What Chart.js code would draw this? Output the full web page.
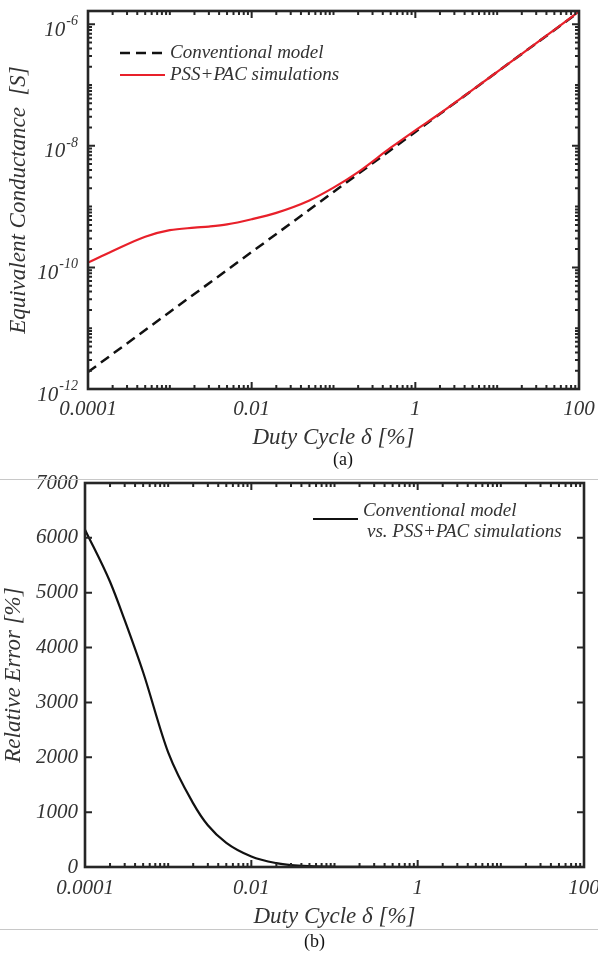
<!DOCTYPE html>
<html><head><meta charset="utf-8">
<script src="https://cdn.jsdelivr.net/npm/chart.js@4.4.0/dist/chart.umd.min.js"></script>
<style>
html,body{margin:0;padding:0;background:#fff;}
body{width:598px;height:955px;position:relative;overflow:hidden;font-family:"Liberation Serif","Times New Roman",serif;}
#ca{position:absolute;left:0;top:0;}
#cb{position:absolute;left:0;top:470px;}
.sep{position:absolute;left:0;width:598px;height:1px;background:#c8c8c8;}
.cap{position:absolute;font-size:18px;color:#111;line-height:1;}
</style></head><body>
<canvas id="ca" width="598" height="470"></canvas>
<canvas id="cb" width="598" height="485"></canvas>
<div class="sep" style="top:479px"></div>
<div class="sep" style="top:929px"></div>
<div class="cap" style="left:333px;top:450px">(a)</div>
<div class="cap" style="left:304px;top:932px">(b)</div>
<script>
// ---------- data ----------
const xTickValues = [0.0001, 0.01, 1, 100];
const xTickLabels = ['0.0001', '0.01', '1', '100'];

const yTickValuesA = [1e-12, 1e-10, 1e-8, 1e-6];
const yTickLabelsA = ['10^-12', '10^-10', '10^-8', '10^-6'];

const yTickValuesB = [0, 1000, 2000, 3000, 4000, 5000, 6000, 7000];
const yTickLabelsB = ['0', '1000', '2000', '3000', '4000', '5000', '6000', '7000'];

const legendLabelsA = ['Conventional model', 'PSS+PAC simulations'];
const legendLabelsB = ['Conventional model', 'vs. PSS+PAC simulations'];

// (a) conventional model
const dutyConv = [0.0001, 0.001, 0.01, 0.1, 1, 10, 100];
const conventionalG = [1.9e-12, 1.85e-11, 1.79e-10, 1.74e-9, 1.69e-8, 1.64e-7, 1.59e-6];

// (a) PSS+PAC simulations
const dutySim = [0.0001, 0.0002, 0.0005, 0.001, 0.002, 0.003, 0.005, 0.01, 0.02, 0.05, 0.1, 0.2, 0.5, 1, 2, 5, 10, 20, 50, 100];
const simulatedG = [1.2e-10, 1.86e-10, 3.2e-10, 4.1e-10, 4.5e-10, 4.7e-10, 5.1e-10, 6.2e-10, 7.9e-10, 1.25e-9, 2.05e-9, 3.7e-9, 9.3e-9, 1.8e-8, 3.4e-8, 8.3e-8, 1.64e-7, 3.25e-7, 8.1e-7, 1.62e-6];

// (b) relative error
const dutyErr = [0.0001, 0.0002, 0.0003, 0.0005, 0.001, 0.002, 0.003, 0.005, 0.01, 0.02, 0.03, 0.05, 0.1, 0.3, 1, 10, 100];
const relError = [6150, 5200, 4500, 3550, 2090, 1160, 760, 440, 192, 70, 34, 15, 5, 1, 0.3, 0, 0];

// ---------- helpers ----------
const FAMILY = '"Liberation Serif","Times New Roman",serif';
const TEXT = '#333';
const tickFont = {family: FAMILY, size: 21, style: 'italic'};
const titleFont = {family: FAMILY, size: 23, style: 'italic'};

function logTickList(minExp, maxExp, maxVal) {
  const out = [];
  for (let e = minExp; e <= maxExp; e++) {
    for (let k = 1; k <= 9; k++) {
      const v = k * Math.pow(10, e);
      if (v <= maxVal * 1.0001) out.push(v);
    }
  }
  return out;
}
function isMajor(v, list) {
  return list.some(m => Math.abs(v - m) <= Math.abs(m) * 1e-6 + (m === 0 ? 1e-9 : 0));
}
const pts = (xs, ys) => xs.map((x, i) => ({x, y: ys[i]}));

const boxTicks = {
  id: 'boxTicks',
  afterDraw(chart, args, o) {
    const {ctx, chartArea: a, scales: {x, y}} = chart;
    ctx.save();
    ctx.strokeStyle = '#262626';
    ctx.lineWidth = 2;
    ctx.beginPath();
    o.xTicks.forEach(v => {
      const px = x.getPixelForValue(v);
      const L = isMajor(v, o.xMajor) ? 7 : 4;
      ctx.moveTo(px, a.bottom); ctx.lineTo(px, a.bottom - L);
      ctx.moveTo(px, a.top); ctx.lineTo(px, a.top + L);
    });
    o.yTicks.forEach(v => {
      const py = y.getPixelForValue(v);
      const L = isMajor(v, o.yMajor) ? 7 : 4;
      ctx.moveTo(a.left, py); ctx.lineTo(a.left + L, py);
      ctx.moveTo(a.right, py); ctx.lineTo(a.right - L, py);
    });
    ctx.stroke();
    ctx.lineWidth = 2.6;
    ctx.strokeRect(a.left, a.top, a.right - a.left, a.bottom - a.top);
    ctx.restore();
  }
};

// power-of-ten labels with a real superscript exponent, placed through the y scale
const supLabels = {
  id: 'supLabels',
  afterDraw(chart, args, o) {
    if (!o.values) return;
    const {ctx, scales: {y}} = chart;
    ctx.save();
    ctx.fillStyle = TEXT;
    ctx.textBaseline = 'middle';
    ctx.textAlign = 'right';
    o.values.forEach((v, i) => {
      const [base, exp] = o.labels[i].split('^');
      const py = y.getPixelForValue(v);
      const right = y.right - o.pad;
      ctx.font = 'italic 14px ' + FAMILY;
      const ew = ctx.measureText(exp).width;
      ctx.fillText(exp, right, py - 3);
      ctx.font = 'italic 21px ' + FAMILY;
      ctx.fillText(base, right - ew - 1, py + 6);
    });
    ctx.restore();
  }
};

const innerLegend = {
  id: 'innerLegend',
  afterDraw(chart, args, o) {
    const ctx = chart.ctx;
    ctx.save();
    ctx.font = 'italic 19px ' + FAMILY;
    ctx.fillStyle = TEXT;
    ctx.textBaseline = 'middle';
    ctx.textAlign = 'left';
    o.items.forEach(it => {
      const ds = chart.data.datasets[it.dataset];
      ctx.strokeStyle = ds.borderColor;
      ctx.lineWidth = ds.borderWidth;
      ctx.setLineDash(ds.borderDash || []);
      ctx.beginPath();
      ctx.moveTo(it.x1, it.y); ctx.lineTo(it.x2, it.y);
      ctx.stroke();
      ctx.setLineDash([]);
      it.lines.forEach((t, i) => ctx.fillText(t, it.tx[i], it.ty[i]));
    });
    ctx.restore();
  }
};

function xScale(height, labelPad, titlePadBottom) {
  return {
    type: 'logarithmic', min: 1e-4, max: 100,
    afterBuildTicks: s => { s.ticks = xTickValues.map(v => ({value: v})); },
    afterFit: s => { s.height = height; s.paddingLeft = 0; s.paddingRight = 0; },
    ticks: {callback: v => xTickLabels[xTickValues.indexOf(v)], font: tickFont, color: TEXT,
            padding: labelPad, autoSkip: false, maxRotation: 0, minRotation: 0},
    grid: {display: false, drawTicks: false},
    border: {display: false},
    title: {display: true, text: 'Duty Cycle \u03B4 [%]', font: titleFont, color: TEXT,
            padding: {top: 0, bottom: titlePadBottom}}
  };
}

// ---------- chart (a) ----------
new Chart(document.getElementById('ca'), {
  type: 'line',
  data: {
    datasets: [
      {label: legendLabelsA[1], data: pts(dutySim, simulatedG), borderColor: '#e8202a', borderWidth: 2.2,
       pointRadius: 0, cubicInterpolationMode: 'monotone', order: 0},
      {label: legendLabelsA[0], data: pts(dutyConv, conventionalG), borderColor: '#111', borderWidth: 2.5,
       borderDash: [10, 6], pointRadius: 0, order: 1}
    ]
  },
  options: {
    responsive: false, animation: false, devicePixelRatio: 1,
    layout: {padding: {top: 11, right: 19, left: 0, bottom: 0}},
    plugins: {
      legend: {display: false}, tooltip: {enabled: false},
      boxTicks: {xTicks: logTickList(-4, 2, 100), xMajor: xTickValues,
                 yTicks: logTickList(-12, -6, 1.65e-6), yMajor: yTickValuesA},
      supLabels: {values: yTickValuesA, labels: yTickLabelsA, pad: 10},
      innerLegend: {items: [
        {dataset: 1, x1: 120, x2: 165, y: 53, lines: [legendLabelsA[0]], tx: [170], ty: [53]},
        {dataset: 0, x1: 120, x2: 165, y: 75, lines: [legendLabelsA[1]], tx: [170], ty: [75]}
      ]}
    },
    scales: {
      x: xScale(81, 8, 18),
      y: {
        type: 'logarithmic', min: 1e-12, max: 1.65e-6,
        afterBuildTicks: s => { s.ticks = yTickValuesA.map(v => ({value: v})); },
        afterFit: s => { s.width = 88; s.paddingTop = 0; s.paddingBottom = 0; },
        ticks: {display: false},
        grid: {display: false, drawTicks: false},
        border: {display: false},
        title: {display: true, text: 'Equivalent Conductance  [S]', font: titleFont, color: TEXT,
                padding: {top: 5, bottom: 0}}
      }
    }
  },
  plugins: [boxTicks, supLabels, innerLegend]
});

// ---------- chart (b) ----------
new Chart(document.getElementById('cb'), {
  type: 'line',
  data: {
    datasets: [
      {label: legendLabelsB.join(' '), data: pts(dutyErr, relError), borderColor: '#111', borderWidth: 2.2,
       pointRadius: 0, cubicInterpolationMode: 'monotone'}
    ]
  },
  options: {
    responsive: false, animation: false, devicePixelRatio: 1,
    layout: {padding: {top: 13, right: 14, left: 0, bottom: 0}},
    plugins: {
      legend: {display: false}, tooltip: {enabled: false},
      boxTicks: {xTicks: logTickList(-4, 2, 100), xMajor: xTickValues,
                 yTicks: yTickValuesB, yMajor: yTickValuesB},
      innerLegend: {items: [
        {dataset: 0, x1: 313, x2: 358, y: 49, lines: legendLabelsB, tx: [363, 367], ty: [41, 62]}
      ]}
    },
    scales: {
      x: xScale(88, 9, 24),
      y: {
        type: 'linear', min: 0, max: 7000,
        afterBuildTicks: s => { s.ticks = yTickValuesB.map(v => ({value: v})); },
        afterFit: s => { s.width = 85; s.paddingTop = 0; s.paddingBottom = 0; },
        ticks: {callback: v => yTickLabelsB[yTickValuesB.indexOf(v)], font: tickFont, color: TEXT,
                padding: 7, autoSkip: false},
        grid: {display: false, drawTicks: false},
        border: {display: false},
        title: {display: true, text: 'Relative Error [%]', font: titleFont, color: TEXT,
                padding: {top: 0, bottom: 0}}
      }
    }
  },
  plugins: [boxTicks, innerLegend]
});
</script>
</body></html>
